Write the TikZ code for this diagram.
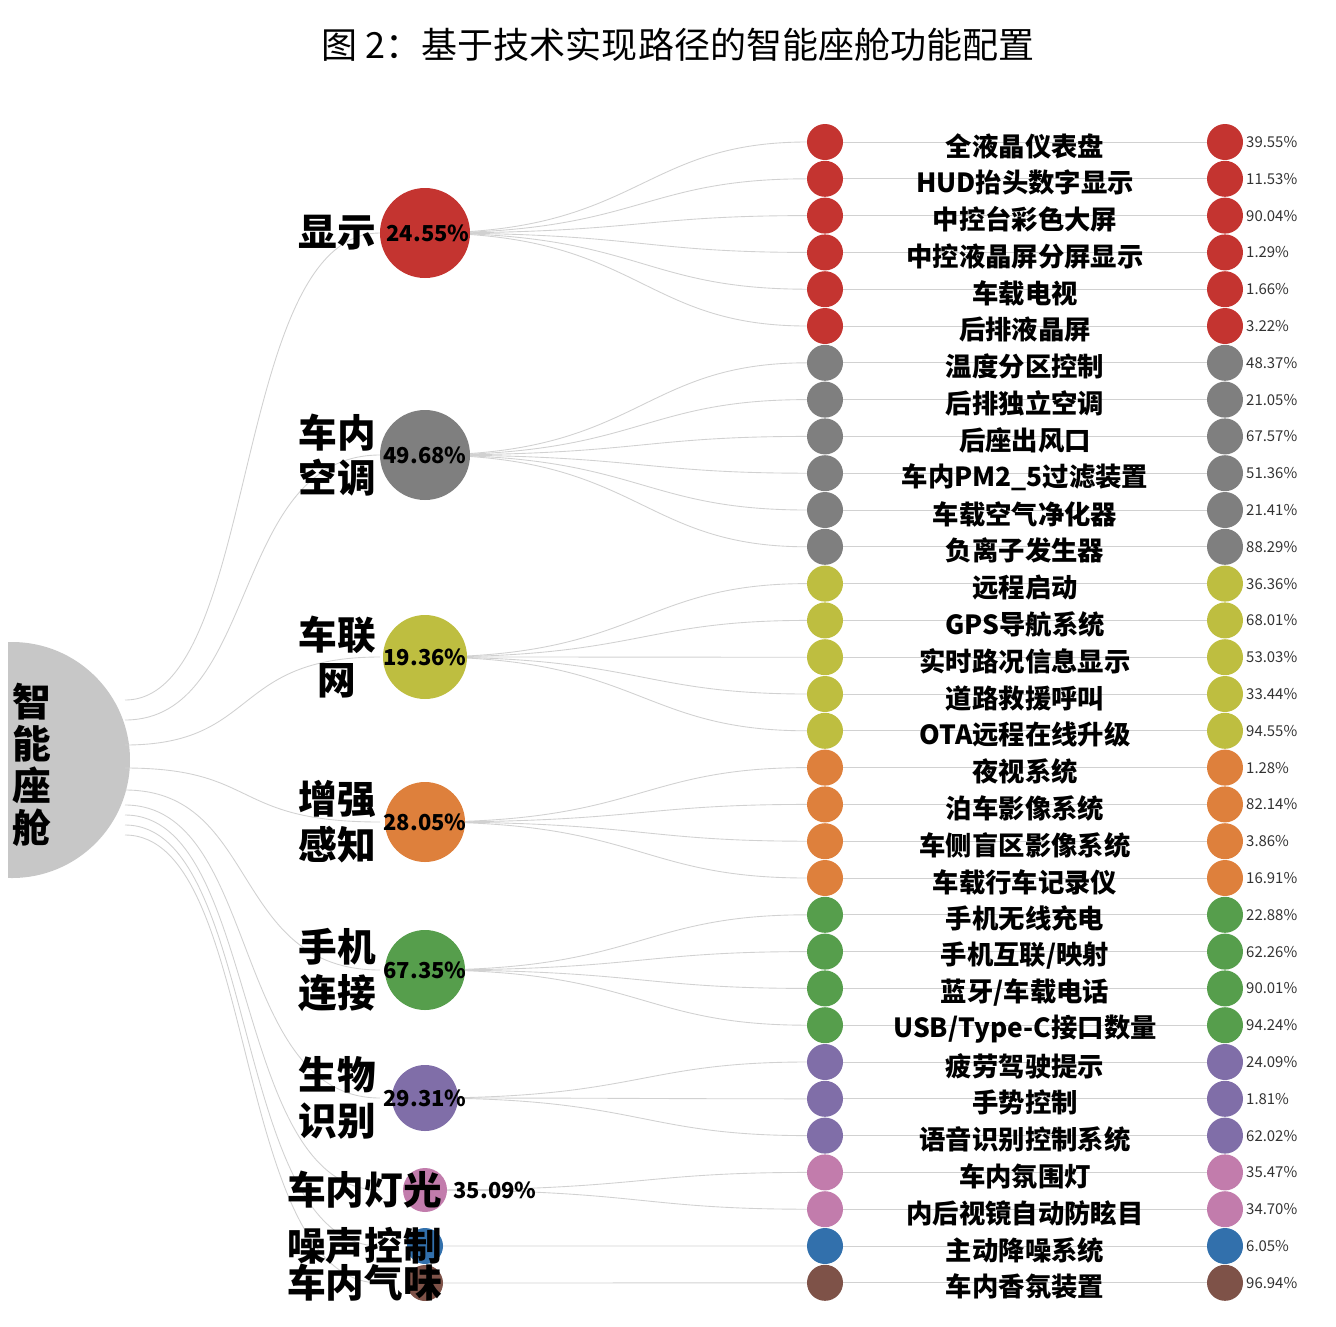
\documentclass[tikz,border=0pt]{standalone}
\usetikzlibrary{calc}
\usepackage{fontspec}
\setmainfont{Noto Sans CJK SC}
\begin{document}
\begin{tikzpicture}[x=0.02cm,y=-0.02cm,
  dotn/.style={circle,inner sep=0pt,minimum size=0.72cm},
  rowlab/.style={font=\bfseries\fontsize{15}{15}\selectfont},
  pctr/.style={anchor=west,font=\fontsize{8.5}{9}\selectfont,text=black!80},
  glab/.style={anchor=east,align=center,font=\bfseries\fontsize{22}{26}\selectfont},
  gpct/.style={font=\bfseries\fontsize{12.5}{13}\selectfont},
  link/.style={draw=black!18,line width=0.5pt}]
\useasboundingbox (0,0) rectangle (1336,1326);
\definecolor{c1}{RGB}{196,52,48}
\definecolor{c2}{RGB}{127,127,127}
\definecolor{c3}{RGB}{190,190,64}
\definecolor{c4}{RGB}{222,128,60}
\definecolor{c5}{RGB}{86,158,76}
\definecolor{c6}{RGB}{128,110,168}
\definecolor{c7}{RGB}{194,124,172}
\definecolor{c8}{RGB}{50,112,172}
\definecolor{c9}{RGB}{126,82,72}
\node[font=\fontsize{20.5}{20.5}\selectfont] (title) at (678,45) {图 2：基于技术实现路径的智能座舱功能配置};
% root
\begin{scope}
\clip (8,600) rectangle (200,900);
\fill[black!22] (12,760) circle (118);
\end{scope}
\node[font=\bfseries\fontsize{22}{24}\selectfont,align=center] (root) at (32,765) {智\\能\\座\\舱};
\foreach \g/\sy in {1/700,2/720,3/745,4/768,5/790,6/805,7/815,8/825,9/835}{
  \pgfmathsetmacro\gyy{{233,455,657,822,970,1098,1190,1246,1283}[\g-1]}
  \coordinate (rs\g) at (125,\sy);
  \coordinate (gw\g) at (380,\gyy);
  \draw[link] (rs\g) .. controls (260,\sy) and (230,\gyy) .. (gw\g);
}
% rows
\foreach \i/\g/\lab/\pc in {
0/1/{全液晶仪表盘}/39.55\%,1/1/{HUD抬头数字显示}/11.53\%,2/1/{中控台彩色大屏}/90.04\%,3/1/{中控液晶屏分屏显示}/1.29\%,4/1/{车载电视}/1.66\%,5/1/{后排液晶屏}/3.22\%,
6/2/{温度分区控制}/48.37\%,7/2/{后排独立空调}/21.05\%,8/2/{后座出风口}/67.57\%,9/2/{车内PM2\_5过滤装置}/51.36\%,10/2/{车载空气净化器}/21.41\%,11/2/{负离子发生器}/88.29\%,
12/3/{远程启动}/36.36\%,13/3/{GPS导航系统}/68.01\%,14/3/{实时路况信息显示}/53.03\%,15/3/{道路救援呼叫}/33.44\%,16/3/{OTA远程在线升级}/94.55\%,
17/4/{夜视系统}/1.28\%,18/4/{泊车影像系统}/82.14\%,19/4/{车侧盲区影像系统}/3.86\%,20/4/{车载行车记录仪}/16.91\%,
21/5/{手机无线充电}/22.88\%,22/5/{手机互联/映射}/62.26\%,23/5/{蓝牙/车载电话}/90.01\%,24/5/{USB/Type-C接口数量}/94.24\%,
25/6/{疲劳驾驶提示}/24.09\%,26/6/{手势控制}/1.81\%,27/6/{语音识别控制系统}/62.02\%,
28/7/{车内氛围灯}/35.47\%,29/7/{内后视镜自动防眩目}/34.70\%,
30/8/{主动降噪系统}/6.05\%,31/9/{车内香氛装置}/96.94\%}{
  \pgfmathsetmacro\ry{142+\i*36.8}
  \pgfmathsetmacro\gyy{{233,455,657,822,970,1098,1190,1246,1283}[\g-1]}
  \coordinate (in\i) at (807,\ry);
  \coordinate (gc\i) at (425,\gyy);
  \draw[link] (gc\i) .. controls (640,\gyy) and (640,\ry) .. (in\i);
  \draw[link] (825,\ry) -- (1225,\ry);
  \node[dotn,fill=c\g] (L\i) at (825,\ry) {};
  \node[dotn,fill=c\g] (R\i) at (1225,\ry) {};
  \node[rowlab] (t\i) at (1025,\ry+4) {\lab};
  \node[pctr] (p\i) at (1240,\ry) {\pc};
}
% groups
\foreach \g/\gy/\gr/\lab/\pc/\pcx in {
 1/233/45/{显示}/24.55\%/428,
 2/455/45/{车内\\空调}/49.68\%/425,
 3/657/42/{车联\\网}/19.36\%/425,
 4/822/40/{增强\\感知}/28.05\%/425,
 5/970/40/{手机\\连接}/67.35\%/425,
 6/1098/33/{生物\\识别}/29.31\%/425,
 7/1190/22/{车内灯光}/35.09\%/495,
 8/1246/18/{噪声控制}//0,
 9/1283/18/{车内气味}//0}{
  \fill[c\g] (425,\gy) circle (\gr);
  \node[glab] (gl\g) at (\ifnum\g>6 448\else 382\fi,\gy) {\lab};
  \node[gpct] (gp\g) at (\pcx,\gy) {\pc};
}
\end{tikzpicture}
\end{document}
